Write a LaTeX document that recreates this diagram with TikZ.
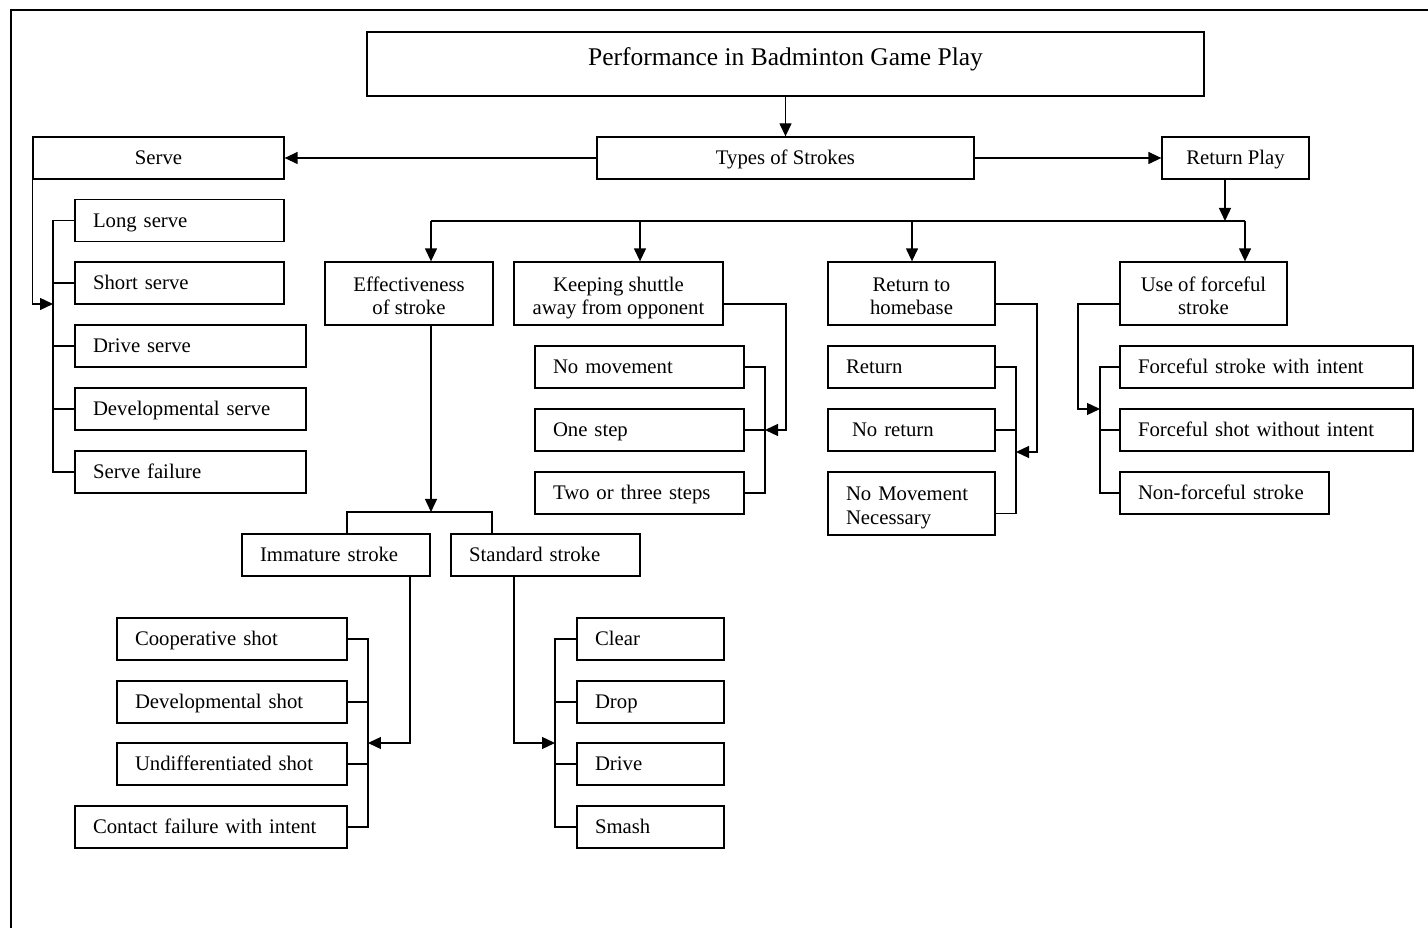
\documentclass[tikz,border=0pt]{standalone}
\usepackage{fontspec}
\setmainfont{Liberation Serif}
\usetikzlibrary{arrows.meta}

\tikzstyle{box}=[draw,line width=0.75pt,inner sep=0pt,font=\fontsize{11.8}{13.6}\selectfont]
\tikzstyle{head}=[box,align=center,minimum height=0.84cm,text height=0.27cm,text depth=0cm]
\tikzstyle{head2}=[box,align=center,minimum height=1.26cm,text height=0.86cm,text depth=0cm]
\tikzstyle{leaf}=[box,align=left,inner xsep=0.36cm,minimum height=0.84cm,text height=0.27cm,text depth=0cm]
\tikzstyle{leaf2}=[box,align=left,inner xsep=0.36cm,minimum height=1.26cm,text height=0.27cm,text depth=0.40cm]
\tikzstyle{link}=[line width=0.75pt]
\tikzstyle{arr}=[link,-{Triangle[length=0.26cm,width=0.24cm]}]

\begin{document}
\begin{tikzpicture}[x=0.02cm,y=-0.02cm]
	\useasboundingbox (0,0) rectangle (1428,928);
	\draw[link] (11,928) -- (11,10) -- (1428,10);
	
	% top levels
	\node[box,minimum width=16.74cm,minimum height=1.28cm,font=\fontsize{14.5}{17}\selectfont,text height=0.34cm,text depth=0.28cm] (title) at (785.5,64) {Performance in Badminton Game Play};
	\node[head,minimum width=7.54cm] (types) at (785.5,158) {Types of Strokes};
	\node[head,minimum width=5.02cm] (serve) at (158.5,158) {Serve};
	\node[head,minimum width=2.94cm] (rplay) at (1235.5,158) {Return Play};
	
	\node[head2,minimum width=3.36cm] (effect) at (409,293.5) {Effectiveness\\of stroke};
	\node[head2,minimum width=4.18cm] (keep) at (618.5,293.5) {Keeping shuttle\\away from opponent};
	\node[head2,minimum width=3.34cm] (homebase) at (911.5,293.5) {Return to\\homebase};
	\node[head2,minimum width=3.34cm] (forceful) at (1203.5,293.5) {Use of forceful\\stroke};
	
	% serve
	\node[leaf,text width=3.46cm] (long) at (179.5,220.5) {Long serve};
	\node[leaf,text width=3.46cm] (short) at (179.5,283) {Short serve};
	\node[leaf,text width=3.90cm] (drive) at (190.5,346) {Drive serve};
	\node[leaf,text width=3.90cm] (devserve) at (190.5,409) {Developmental serve};
	\node[leaf,text width=3.90cm] (fail) at (190.5,472) {Serve failure};
	
	% keeping shuttle away
	\node[leaf,text width=3.46cm] (nomove) at (639.5,367) {No movement};
	\node[leaf,text width=3.46cm] (onestep) at (639.5,430) {One step};
	\node[leaf,text width=3.46cm] (twothree) at (639.5,493) {Two or three steps};
	
	% return to homebase
	\node[leaf,text width=2.62cm] (ret) at (911.5,367) {Return};
	\node[leaf,text width=2.62cm] (noret) at (911.5,430) {\hspace*{0.12cm}No return};
	\node[leaf2,text width=2.62cm] (nomovenec) at (911.5,503.5) {No Movement\\Necessary};
	
	% forceful stroke
	\node[leaf,text width=5.14cm] (fwith) at (1266.5,367) {Forceful stroke with intent};
	\node[leaf,text width=5.14cm] (fwithout) at (1266.5,430) {Forceful shot without intent};
	\node[leaf,text width=3.46cm] (nonforce) at (1224.5,493) {Non-forceful stroke};
	
	% effectiveness
	\node[leaf,text width=3.04cm] (immature) at (336,555) {Immature stroke};
	\node[leaf,text width=3.06cm] (standard) at (545.5,555) {Standard stroke};
	
	\node[leaf,text width=3.88cm] (coop) at (232,639) {Cooperative shot};
	\node[leaf,text width=3.88cm] (devshot) at (232,702) {Developmental shot};
	\node[leaf,text width=3.88cm] (undiff) at (232,764) {Undifferentiated shot};
	\node[leaf,text width=4.72cm] (contact) at (211,827) {Contact failure with intent};
	
	\node[leaf,text width=2.22cm] (clear) at (650.5,639) {Clear};
	\node[leaf,text width=2.22cm] (drop) at (650.5,702) {Drop};
	\node[leaf,text width=2.22cm] (drivestroke) at (650.5,764) {Drive};
	\node[leaf,text width=2.22cm] (smash) at (650.5,827) {Smash};
	
	% connectors
	\draw[arr] (title) -- (types);
	\draw[arr] (types) -- (serve);
	\draw[arr] (types) -- (rplay);
	
	\coordinate (busL) at (431,221);
	\coordinate (busR) at (1245,221);
	\coordinate (bkeep) at (640,221);
	\coordinate (bhome) at (912,221);
	\coordinate (bplay) at (1225,221);
	\draw[link] (busL) -- (busR);
	\draw[arr] (rplay.south -| bplay) -- (bplay);
	\foreach \c/\n in {busL/effect,bkeep/keep,bhome/homebase,busR/forceful}
		\draw[arr] (\c) -- (\c |- \n.north);
	
	\coordinate (sbus) at (53,304);
	\draw[arr] (serve.south west) |- (sbus);
	\draw[link] (long.west) -| (sbus) |- (fail.west);
	\foreach \n in {short,drive,devserve}
		\draw[link] (\n.west) -- (\n.west -| sbus);
	
	\coordinate (kbus) at (765,430);
	\coordinate (kturn) at (786,430);
	\draw[link] (nomove.east) -| (kbus) |- (twothree.east);
	\draw[link] (onestep.east) -- (kbus);
	\draw[arr] ([yshift=-0.21cm]keep.east) -| (kturn) -- (kbus);
	
	\coordinate (hbus) at (1016,452);
	\coordinate (hturn) at (1037,452);
	\draw[link] (ret.east) -| (hbus) |- ([yshift=-0.2cm]nomovenec.east);
	\draw[link] (noret.east) -- (noret.east -| hbus);
	\draw[arr] ([yshift=-0.21cm]homebase.east) -| (hturn) -- (hbus);
	
	\coordinate (fbus) at (1100,409);
	\coordinate (fturn) at (1078,409);
	\draw[link] (fwith.west) -| (fbus) |- (nonforce.west);
	\draw[link] (fwithout.west) -- (fwithout.west -| fbus);
	\draw[arr] ([yshift=-0.21cm]forceful.west) -| (fturn) -- (fbus);
	
	\coordinate (ebus) at (431,512);
	\coordinate (eleft) at (347,512);
	\coordinate (eright) at (492,512);
	\draw[arr] (effect.south -| ebus) -- (ebus);
	\draw[link] (immature.north -| eleft) |- (eright) -- (standard.north -| eright);
	
	\coordinate (ibus) at (368,743);
	\draw[arr] ([xshift=1.48cm]immature.south) |- (ibus);
	\draw[link] (coop.east) -| (ibus) |- (contact.east);
	\foreach \n in {devshot,undiff}
		\draw[link] (\n.east) -- (\n.east -| ibus);
	
	\coordinate (stbus) at (555,743);
	\draw[arr] ([xshift=-0.63cm]standard.south) |- (stbus);
	\draw[link] (clear.west) -| (stbus) |- (smash.west);
	\foreach \n in {drop,drivestroke}
		\draw[link] (\n.west) -- (\n.west -| stbus);
\end{tikzpicture}
\end{document}
